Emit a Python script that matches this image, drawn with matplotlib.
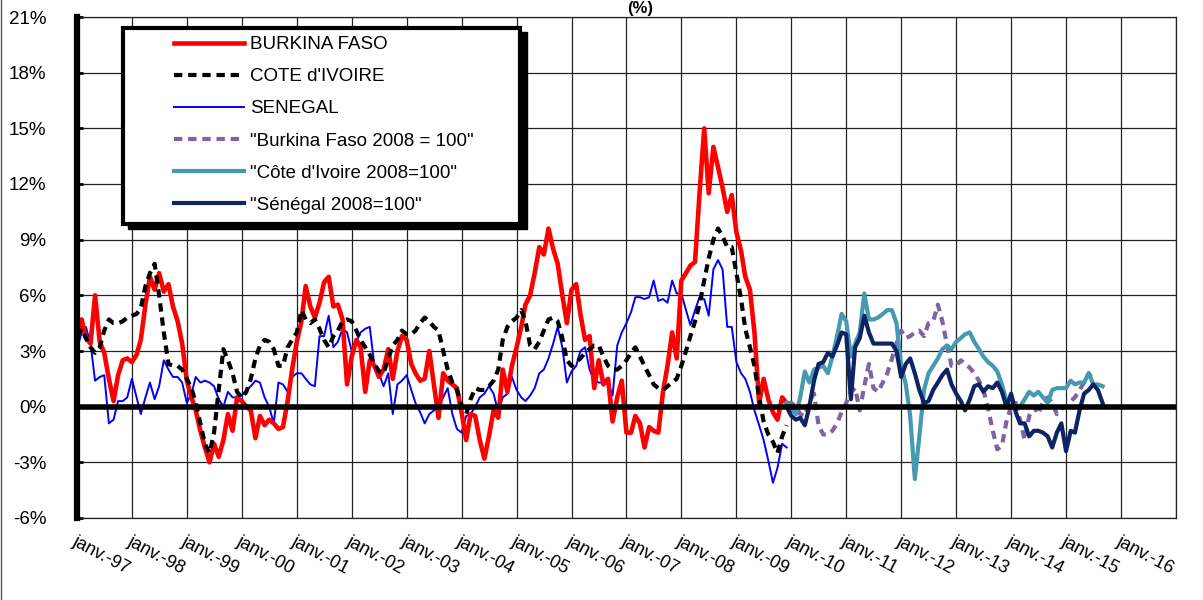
import numpy as np
import pandas as pd
import matplotlib
matplotlib.use('Agg')
import matplotlib.pyplot as plt
from matplotlib.lines import Line2D
from matplotlib.patches import Rectangle

plt.rcParams['font.family'] = ['Liberation Sans', 'DejaVu Sans']

# monthly food inflation (%), janv.-97 .. dec.-09
burkina = [3.8, 4.7, 3.7, 3.4, 6.0, 3.5, 2.9, 1.5, 0.3, 1.7, 2.5, 2.6,
           2.4, 2.8, 3.6, 5.5, 7.0, 6.3, 7.2, 6.2, 6.6, 5.4, 4.6, 3.4,
           1.4, 0.5, -0.2, -1.3, -2.2, -3.0, -2.0, -2.7, -1.8, -0.4, -1.3, 0.5,
           0.3, 0.0, -0.2, -1.7, -0.5, -1.0, -0.7, -0.9, -1.2, -1.1, 0.3, 2.0,
           3.5, 4.6, 6.5, 5.4, 4.8, 5.6, 6.7, 7.0, 5.4, 5.5, 4.7, 1.2,
           2.7, 3.6, 3.2, 0.8, 2.5, 2.2, 1.6, 2.0, 3.1, 1.5, 3.0, 3.8,
           3.6, 2.3, 1.8, 1.4, 1.5, 3.0, 1.2, -0.6, 1.8, 1.4, 1.2, 1.0,
           -0.3, -1.8, -0.4, -0.5, -1.8, -2.8, -1.6, -0.2, -0.6, 2.0, 0.8, 2.2,
           3.2, 4.3, 5.5, 6.0, 7.2, 8.6, 8.2, 9.6, 8.5, 7.7, 6.0, 4.5,
           6.3, 6.6, 5.0, 3.6, 3.8, 1.0, 2.5, 1.2, 1.5, -0.8, 0.5, 1.4,
           -1.4, -1.4, -0.5, -0.9, -2.2, -1.1, -1.3, -1.4, 0.8, 2.2, 4.0, 2.6,
           6.8, 7.2, 7.6, 7.8, 11.5, 15.0, 11.5, 14.0, 12.9, 11.8, 10.5, 11.4,
           9.4, 8.4, 7.0, 6.3, 4.0, 0.2, 1.5, 0.4, -0.3, -0.7, 0.5, 0.2]

cote_ivoire = [3.8, 4.2, 3.7, 3.2, 2.9, 3.2, 4.1, 4.7, 4.5, 4.5, 4.6, 4.8,
               4.9, 5.0, 5.3, 6.5, 7.2, 7.7, 6.0, 4.0, 2.3, 2.2, 2.2, 2.0,
               1.5, 1.0, 0.2, -0.9, -2.0, -2.5, -1.4, 0.9, 3.1, 2.5, 1.8, 0.8,
               0.5, 0.8, 1.5, 2.6, 3.3, 3.6, 3.5, 3.1, 2.2, 2.2, 3.2, 3.6,
               4.0, 5.2, 4.7, 4.5, 4.7, 4.2, 3.6, 3.2, 3.8, 4.1, 4.6, 4.7,
               4.6, 4.1, 3.6, 3.2, 2.8, 2.3, 1.9, 1.8, 2.6, 3.3, 3.6, 4.1,
               3.9, 3.9, 4.1, 4.5, 4.8, 4.6, 4.3, 4.1, 3.0, 2.0, 1.3, 0.9,
               0.1, -0.4, 0.4, 1.0, 0.9, 0.9, 1.1, 1.4, 2.0, 3.6, 4.3, 4.6,
               4.8, 5.2, 4.6, 3.3, 3.1, 3.5, 4.1, 4.7, 4.8, 4.6, 3.7, 2.5,
               2.2, 2.4, 2.6, 2.9, 3.1, 3.3, 3.3, 2.7, 2.2, 2.0, 2.0, 2.2,
               2.5, 2.9, 3.2, 2.7, 2.2, 1.7, 1.2, 1.0, 0.9, 1.1, 1.3, 1.5,
               2.2, 3.0, 3.8, 4.6, 5.5, 6.8, 8.0, 9.0, 9.6, 9.2, 8.6, 8.6,
               7.2, 5.8, 4.2, 3.2, 2.2, 0.5, -0.8, -1.5, -1.9, -2.5, -1.6, -1.0]

senegal = [3.1, 4.0, 4.3, 3.4, 1.4, 1.6, 1.7, -0.9, -0.7, 0.3, 0.3, 0.5,
           1.5, 0.5, -0.4, 0.5, 1.3, 0.4, 1.1, 2.5, 2.0, 1.6, 1.6, 1.3,
           0.2, 0.7, 1.6, 1.3, 1.4, 1.3, 1.1, 0.4, 0.0, 0.8, 0.5, 0.5,
           0.6, 0.9, 1.1, 1.4, 1.3, 0.5, 0.0, -0.9, 1.3, 1.2, 0.8, 1.6,
           1.8, 1.8, 1.5, 1.2, 1.1, 3.8, 3.8, 4.9, 3.2, 3.5, 4.2, 4.0,
           3.0, 3.5, 4.0, 4.2, 4.3, 2.2, 1.8, 1.1, 1.8, -0.4, 1.2, 1.4,
           1.7, 0.9, 0.2, -0.3, -0.9, -0.4, -0.2, 0.0, 0.5, 1.0, -0.4, -1.2,
           -1.4, -0.5, -0.4, 0.0, 0.5, 0.7, 1.1, 0.7, -0.3, 0.5, 0.7, 1.6,
           0.9, 0.5, 0.3, 0.6, 1.0, 1.8, 2.0, 2.6, 3.4, 4.3, 3.2, 1.3,
           1.9, 2.2, 3.0, 3.2, 2.0, 1.4, 1.3, 1.3, 1.3, 0.6, 3.3, 4.0,
           4.5, 5.1, 5.9, 5.9, 5.8, 5.9, 6.8, 5.7, 5.8, 5.6, 6.8, 6.1,
           6.1, 5.2, 4.4, 5.2, 5.9, 5.8, 4.9, 7.4, 7.9, 7.4, 4.3, 4.3,
           2.4, 1.8, 1.5, 0.8, -0.2, -1.0, -1.8, -2.9, -4.1, -3.3, -2.0, -2.2]

# base 2008 = 100 series, from dec.-09
burkina_2008 = [0.2, 0.2, 0.0, -0.4, -0.5, 0.3, 0.7, -1.0, -1.5, -1.5, -1.3, -0.9,
                -0.3, 0.2, 0.8, 1.0, -0.2, 1.1, 2.3, 1.0, 0.8, 1.3, 1.8, 2.6,
                3.4, 4.1, 3.7, 3.8, 4.0, 4.1, 3.8, 4.5, 4.6, 5.5, 4.6, 3.3,
                2.2, 2.2, 2.5, 2.3, 2.1, 1.8, 1.4, 0.9, -0.1, -1.3, -2.3, -2.1,
                -0.8, 0.0, 0.2, -0.7, -1.8, -0.5, 0.0, -0.4, 0.3, 0.5, 0.2, -0.4,
                -0.1, 0.0, 0.3, 0.5, 0.9, 1.3, 1.8, 1.4]

civ_2008 = [0.2, -0.1, -0.4, 0.5, 1.9, 1.3, 2.0, 2.1, 2.2, 1.8, 2.7, 3.8,
            5.0, 4.6, 2.7, 3.4, 4.0, 6.1, 4.7, 4.7, 4.8, 5.0, 5.2, 5.2,
            4.5, 2.2, 1.2, -0.5, -3.9, -1.6, 0.9, 1.8, 2.2, 2.6, 3.1, 3.3,
            3.1, 3.5, 3.7, 3.9, 4.0, 3.5, 3.1, 2.7, 2.4, 2.2, 1.9, 1.2,
            0.3, 0.0, 0.0, 0.0, 0.4, 0.8, 0.6, 0.8, 0.5, 0.2, 0.9, 1.0,
            1.0, 1.0, 1.4, 1.2, 1.3, 1.3, 1.8, 1.2, 1.2, 1.1]

senegal_2008 = [0.0, -0.5, -0.7, -0.6, -1.0, 0.0, 1.4, 2.3, 2.4, 2.9, 2.7, 3.3,
                4.0, 3.9, 0.4, 3.2, 3.7, 4.9, 4.0, 3.4, 3.4, 3.4, 3.4, 3.4,
                3.0, 1.6, 2.3, 2.6, 1.8, 0.9, 0.2, 0.3, 0.9, 1.3, 1.7, 2.0,
                1.2, 0.7, 0.3, -0.2, 0.4, 1.1, 1.2, 0.8, 1.1, 1.0, 1.3, 0.8,
                0.0, 0.7, -0.3, -0.9, -0.9, -1.6, -1.3, -1.3, -1.4, -1.6, -2.2, -1.4,
                -0.9, -2.4, -1.3, -1.4, -0.2, 0.7, 0.9, 1.2, 0.9, 0.2]

years = list(range(1997, 2018))
tick_labels = [f'janv.-{y % 100:02d}' for y in years[:-1]] + ['']
y_ticks = list(range(-6, 22, 3))

old_dates = pd.date_range('1997-01-01', periods=len(burkina), freq='MS')


def new_dates(series):
    return pd.date_range('2009-12-01', periods=len(series), freq='MS')


fig = plt.figure(figsize=(12.03, 6.0), dpi=100)
ax = fig.add_axes([77 / 1203, 1 - 518 / 600, 1099 / 1203, 501 / 600])

ax.plot(old_dates, senegal, color='#0000ff', lw=1.4, zorder=3)
ax.plot(old_dates, cote_ivoire, color='black', lw=3, dashes=(2, 1.4), zorder=4)
ax.plot(old_dates, burkina, color='#ff0000', lw=3.3, zorder=3)
ax.plot(new_dates(burkina_2008), burkina_2008, color='#8064a2', lw=3, dashes=(2, 1.4), zorder=3)
ax.plot(new_dates(civ_2008), civ_2008, color='#4599b0', lw=3, zorder=3)
ax.plot(new_dates(senegal_2008), senegal_2008, color='#0c2463', lw=3, zorder=4)

ax.axhline(0, color='black', lw=4, zorder=5)

x_ticks = pd.to_datetime([f'{y}-01-01' for y in years])
ax.set_xlim(x_ticks[0], x_ticks[-1])
ax.set_ylim(-6, 21)
ax.set_xticks(x_ticks)
ax.set_xticklabels(tick_labels, rotation=-28, ha='left', va='top',
                   rotation_mode='anchor', fontsize=13)
ax.set_yticks(y_ticks)
ax.set_yticklabels([f'{v}%' for v in y_ticks], fontsize=13.5)
ax.tick_params(axis='x', length=0, pad=11)
ax.tick_params(axis='y', length=4, width=2, direction='in', pad=22)
ax.grid(True, color='#222222', lw=0.9)
ax.set_axisbelow(True)
for side in ['top', 'right', 'bottom']:
    ax.spines[side].set_color('#222222')
    ax.spines[side].set_linewidth(0.9)
ax.spines['left'].set_linewidth(4.5)
ax.spines['left'].set_zorder(6)

# legend box with a hard shadow
fig.patches.append(Rectangle((128 / 1203, 1 - 229 / 600), 399 / 1203, 197 / 600,
                             transform=fig.transFigure, facecolor='black',
                             edgecolor='black', zorder=3))
fig.patches.append(Rectangle((123 / 1203, 1 - 224 / 600), 397 / 1203, 196 / 600,
                             transform=fig.transFigure, facecolor='white',
                             edgecolor='black', lw=3, zorder=3))

handles = [Line2D([], [], color='#ff0000', lw=3.3),
           Line2D([], [], color='black', lw=3, dashes=(2, 1.4)),
           Line2D([], [], color='#0000ff', lw=1.4),
           Line2D([], [], color='#8064a2', lw=3, dashes=(2, 1.4)),
           Line2D([], [], color='#4599b0', lw=3),
           Line2D([], [], color='#0c2463', lw=3)]
labels = ['BURKINA FASO', "COTE d'IVOIRE", 'SENEGAL',
          '"Burkina Faso 2008 = 100"', '"Côte d\'Ivoire 2008=100"', '"Sénégal 2008=100"']
leg = fig.legend(handles, labels, loc='upper left', bbox_to_anchor=(174 / 1203, 1 - 36 / 600),
                 frameon=False, fontsize=13.5, borderpad=0, handlelength=3.73,
                 handletextpad=0.32, labelspacing=0.8, borderaxespad=0)
leg.set_zorder(4)

fig.text(640 / 1203, 1 - 1 / 600, '(%)', ha='center', va='top',
         fontsize=12, fontweight='bold')
fig.add_artist(Line2D([1 / 1203, 1 / 1203], [0, 1], transform=fig.transFigure,
                      color='#555555', lw=1))

fig.savefig('out.png', dpi=100)
